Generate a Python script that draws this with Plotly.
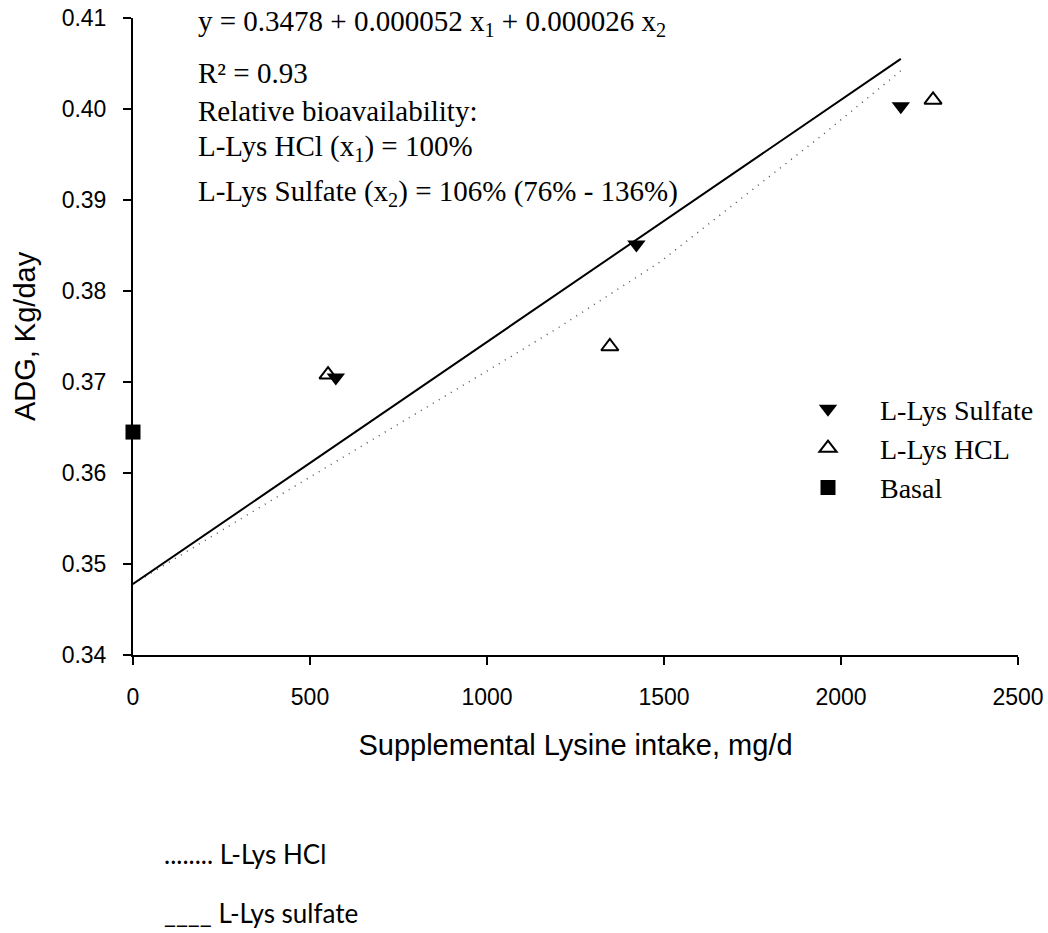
import plotly.graph_objects as go

# ---- data ----
sulfate_x = [573, 1422, 2169]
sulfate_y = [0.3705, 0.3851, 0.4003]
hcl_x = [551, 1347, 2260]
hcl_y = [0.3708, 0.3739, 0.4010]
basal_x = [0]
basal_y = [0.3645]
sulfate_fit_x = [0, 2169]
sulfate_fit_y = [0.3478, 0.4055]
hcl_fit_x = [0, 472, 1038, 1207, 1489, 1943, 2169]
hcl_fit_y = [0.3478, 0.3589, 0.3721, 0.3761, 0.3832, 0.3970, 0.4042]
x_ticks = [0, 500, 1000, 1500, 2000, 2500]
y_ticks = [0.34, 0.35, 0.36, 0.37, 0.38, 0.39, 0.40, 0.41]
equation_lines = [
    "y = 0.3478 + 0.000052 x<sub>1</sub> + 0.000026 x<sub>2</sub>",
    "R² = 0.93",
    "Relative bioavailability:",
    "L-Lys HCl (x<sub>1</sub>) = 100%",
    "L-Lys Sulfate (x<sub>2</sub>) = 106% (76% - 136%)",
]
line_key = ["........ L-Lys HCl", "____ L-Lys sulfate"]

SERIF = "Liberation Serif, Times New Roman, serif"
SANS = "Liberation Sans, Arial, sans-serif"

fig = go.Figure()
fig.add_trace(go.Scatter(x=hcl_fit_x, y=hcl_fit_y, mode="lines", showlegend=False,
                         line=dict(color="#555555", width=1.5, dash="1px,6px"),
                         hoverinfo="skip"))
fig.add_trace(go.Scatter(x=sulfate_fit_x, y=sulfate_fit_y, mode="lines", showlegend=False,
                         line=dict(color="black", width=2), hoverinfo="skip"))
fig.add_trace(go.Scatter(x=sulfate_x, y=sulfate_y, mode="markers", name="L-Lys Sulfate",
                         marker=dict(symbol="triangle-down", size=16, color="black",
                                     line=dict(width=0)), cliponaxis=False))
fig.add_trace(go.Scatter(x=hcl_x, y=hcl_y, mode="markers", name="L-Lys HCL",
                         marker=dict(symbol="triangle-up-open", size=15, color="black",
                                     line=dict(width=2, color="black")), cliponaxis=False))
fig.add_trace(go.Scatter(x=basal_x, y=basal_y, mode="markers", name="Basal",
                         marker=dict(symbol="square", size=15, color="black"),
                         cliponaxis=False))

L, R, T, B = 133, 30, 18, 278
W, H = 1048, 933
pw, ph = W - L - R, H - T - B

annotations = []
eq_py = [23, 73, 111, 148, 193]
for txt, py in zip(equation_lines, eq_py):
    annotations.append(dict(text=txt, xref="paper", yref="paper",
                            x=(196 - L) / pw, y=(H - B - py) / ph,
                            xanchor="left", yanchor="middle", showarrow=False,
                            font=dict(family=SERIF, size=29, color="black")))
for txt, py in zip(line_key, [854, 913]):
    annotations.append(dict(text=txt, xref="paper", yref="paper",
                            x=(162 - L) / pw, y=(H - B - py) / ph,
                            xanchor="left", yanchor="middle", showarrow=False,
                            font=dict(family="Lato, Carlito, sans-serif", size=26, color="black")))

fig.update_layout(
    width=W, height=H,
    margin=dict(l=L, r=R, t=T, b=B, autoexpand=False),
    paper_bgcolor="white", plot_bgcolor="white",
    showlegend=True,
    legend=dict(x=(776 - L) / pw, y=(H - B - 384) / ph, xanchor="left", yanchor="top",
                bgcolor="rgba(0,0,0,0)", borderwidth=0, itemwidth=94,
                font=dict(family=SERIF, size=28, color="black"), tracegroupgap=0),
    annotations=annotations,
    xaxis=dict(range=[0, 2500], tickvals=x_ticks, ticktext=[str(v) for v in x_ticks],
               showgrid=False, zeroline=False, showline=True, linecolor="black", linewidth=2,
               ticks="outside", ticklen=8, tickwidth=2, tickcolor="black",
               ticklabelstandoff=12,
               tickfont=dict(family=SANS, size=23, color="black"),
               title=dict(text="Supplemental Lysine intake, mg/d", standoff=26,
                          font=dict(family=SANS, size=29, color="black"))),
    yaxis=dict(range=[0.34, 0.41], tickvals=y_ticks, tickformat=".2f",
               showgrid=False, zeroline=False, showline=True, linecolor="black", linewidth=2,
               ticks="outside", ticklen=8, tickwidth=2, tickcolor="black",
               ticklabelstandoff=12,
               tickfont=dict(family=SANS, size=23, color="black"),
               title=dict(text="ADG, Kg/day", standoff=17,
                          font=dict(family=SANS, size=29, color="black"))),
)

fig.write_html("out.html")
